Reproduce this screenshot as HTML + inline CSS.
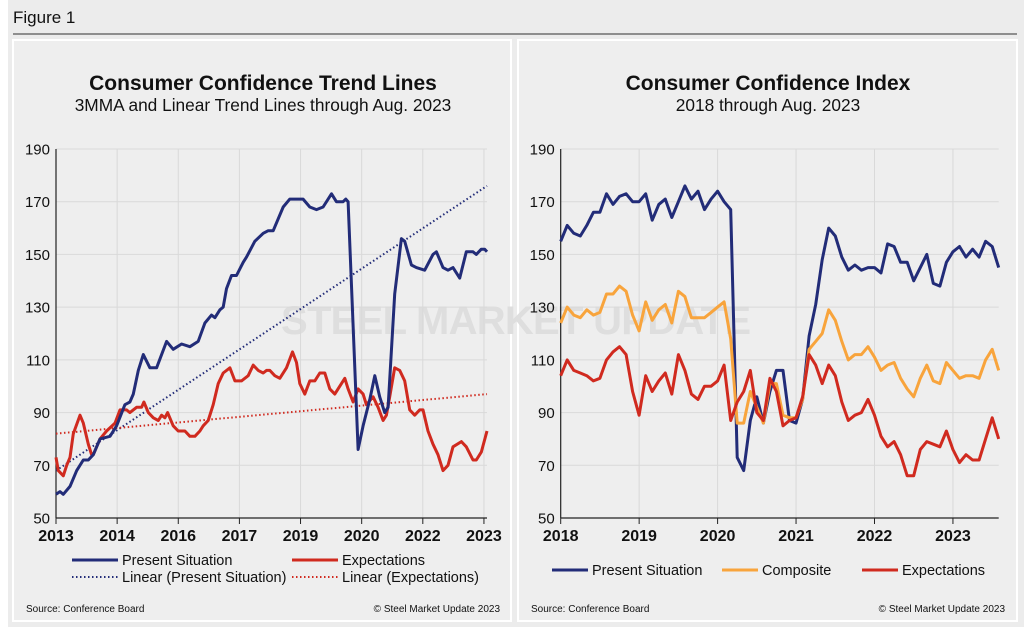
<!DOCTYPE html>
<html><head><meta charset="utf-8"><style>
html,body{margin:0;padding:0;background:#ececec;}
svg{display:block;font-family:"Liberation Sans",Arial,sans-serif;}
</style></head><body>
<svg id="fig" width="1024" height="627" viewBox="0 0 1024 627" xmlns="http://www.w3.org/2000/svg">
<rect x="0" y="0" width="1024" height="627" fill="#ececec"/>
<rect x="0" y="0" width="8" height="627" fill="#ffffff"/>
<text x="13" y="23" font-size="17" fill="#111">Figure 1</text>
<line x1="13" y1="34" x2="1017" y2="34" stroke="#555" stroke-width="1.2"/>
<rect x="13" y="40" width="498" height="581" fill="#eeeeee" stroke="#ffffff" stroke-width="2"/>
<rect x="518" y="40" width="499" height="581" fill="#eeeeee" stroke="#ffffff" stroke-width="2"/>
<text x="516" y="334" font-size="40" font-weight="bold" text-anchor="middle" fill="#dedede" textLength="470">STEEL MARKET UPDATE</text>
<g id="left"></g>
<g id="right"></g>
</svg>
<script>
// ---------- LEFT CHART DATA ----------
const leftYTicks = [50,70,90,110,130,150,170,190];
const leftXLabels = ["2013","2014","2016","2017","2019","2020","2022","2023"];
const leftPresentX = [0,1.2,2.2,4.2,6.2,8.2,9.7,11.2,13.2,16.2,18.2,20.7,22.2,23.2,24.7,26.2,28.2,30.2,33.2,35.2,37.7,40.2,42.7,44.7,46.7,47.7,49.2,50.2,51.2,52.7,54.2,56.2,57.2,59.7,62.2,63.7,65.2,68.2,70.2,72.2,74.2,76.2,78.2,80.2,82.7,84.2,86.2,87,87.7,90.7,92.2,94.2,95.7,97.2,98.7,99.7,101.7,103.7,104.7,106.7,108.2,110.7,113.2,114.2,116.2,117.7,119.2,121.2,123.2,125.2,126.2,127.7,128.7,129.4];
const leftPresent = [59,60,59,62,68,72,72,74,80,81,85,93,94,97,106,112,107,107,117,114,116,115,117,124,127,126,129,130,137,142,142,147,149,155,158,159,159,168,171,171,171,168,167,168,173,170,170,171,170,76,85,95,104,96,90,92,135,156,155,146,145,144,150,151,145,144,145,141,151,151,150,152,152,151];
const leftExpectX = [0,0.7,2.2,3.2,4.2,5.2,7.2,8.2,9.7,10.7,11.2,13.2,15.2,17.7,19.2,21.2,22.2,24.2,25.7,26.4,27.7,29.2,30.7,31.7,32.7,33.5,35.2,36.7,38.7,40.2,41.7,43.2,44.2,45.7,47.2,48.7,50.2,52.2,53.7,55.7,57.7,59.2,60.7,62.2,63.2,64.2,65.7,67.2,69.2,71,72.2,73.2,74.7,76.2,77.7,79.2,80.7,82.2,83.7,85.2,86.7,87.7,89.2,90.7,92.2,93.2,95.2,96.7,98.2,99.2,100.2,101.7,103.2,104.7,106.2,107.7,109.2,110.2,111.7,113.2,114.7,116.2,117.7,119.2,121.7,123.2,125.2,126.2,127.7,129.4];
const leftExpect = [73,68,66,70,73,82,89,86,78,74,74,80,83,86,91,91,90,92,92,94,90,88,87,89,88,90,85,83,83,81,81,83,85,87,93,101,105,107,102,102,104,108,106,105,106,106,104,103,107,113,109,101,97,102,102,105,105,99,97,100,103,99,94,99,97,93,96,92,87,89,96,107,106,102,91,89,91,91,83,78,74,68,70,77,79,77,72,72,75,83];
const leftTrendPresent = [68,176];
const leftTrendExpect = [82,97];
const leftXDomain = [0,129.4];

// ---------- RIGHT CHART DATA ----------
const rightYTicks = [50,70,90,110,130,150,170,190];
const rightXLabels = ["2018","2019","2020","2021","2022","2023"];
const rightPresent = [155,161,158,157,161,166,166,173,169,172,173,170,170,173,163,169,171,164,170,176,171,174,167,171,174,170,167,73,68,87,96,86,98,106,106,87,86,95,119,131,148,160,157,149,144,146,144,145,145,143,154,153,147,147,140,145,150,139,138,147,151,153,149,152,149,155,153,145];
const rightComposite = [124,130,127,126,129,127,128,135,135,138,136,127,121,132,125,129,131,124,136,134,126,126,126,128,130,132,118,86,86,98,92,86,101,101,89,88,88,95,114,117,120,129,125,117,110,112,112,115,111,106,108,109,103,99,96,103,108,102,101,109,106,103,104,104,103,110,114,106];
const rightExpect = [104,110,106,105,104,102,103,110,113,115,112,98,89,104,98,102,105,97,112,106,97,95,100,100,102,108,87,94,98,106,90,87,103,98,85,87,88,96,112,108,101,108,104,94,87,89,90,95,89,81,77,79,74,66,66,76,79,78,77,83,76,71,74,72,72,80,88,80];

const NS = "http://www.w3.org/2000/svg";
const NAVY = "#222c78", RED = "#d02a1f", ORANGE = "#f8a43c";
function mk(tag, attrs, parent){const e=document.createElementNS(NS,tag);for(const k in attrs)e.setAttribute(k,attrs[k]);parent.appendChild(e);return e;}
function txt(parent,x,y,s,size,anchor,weight,fill){const t=mk("text",{x:x,y:y,"font-size":size,"text-anchor":anchor||"start","font-weight":weight||"normal",fill:fill||"#111"},parent);t.textContent=s;return t;}

function linY(v){return 518-(v-50)*(369/140);}

// ---- LEFT ----
(function(){
  const g=document.getElementById("left");
  const x0=56,x1=487;
  const X=v=>x0+(v-leftXDomain[0])/(leftXDomain[1]-leftXDomain[0])*(x1-x0);
  const t1=txt(g,263,90,"Consumer Confidence Trend Lines",21,"middle","bold");
  
  
  const t2=txt(g,263,111,"3MMA and Linear Trend Lines through Aug. 2023",17.3,"middle");
  
  
  leftYTicks.forEach(v=>{
    const y=linY(v);
    mk("line",{x1:x0,y1:y,x2:x1,y2:y,stroke:"#d9d9d9","stroke-width":1},g);
    const l=txt(g,x0-6,y+5.5,String(v),15,"end");
    
    
  });
  const step=(x1-x0)/7.05;
  leftXLabels.forEach((s,i)=>{
    const x=x0+i*step;
    if(i>0) mk("line",{x1:x,y1:149,x2:x,y2:518,stroke:"#d9d9d9","stroke-width":1},g);
    mk("line",{x1:x,y1:518,x2:x,y2:524,stroke:"#222","stroke-width":1},g);
    const l=txt(g,x,541,s,16,"middle","bold");
    
    
  });
  mk("line",{x1:x0,y1:149,x2:x0,y2:518,stroke:"#222","stroke-width":1.2},g);
  mk("line",{x1:x0,y1:518,x2:x1,y2:518,stroke:"#222","stroke-width":1.2},g);
  const tp=mk("line",{x1:X(leftXDomain[0]),y1:linY(leftTrendPresent[0]),x2:X(leftXDomain[1]),y2:linY(leftTrendPresent[1]),stroke:NAVY,"stroke-width":2,"stroke-dasharray":"1.5 2.5"},g);
  
  
  const te=mk("line",{x1:X(leftXDomain[0]),y1:linY(leftTrendExpect[0]),x2:X(leftXDomain[1]),y2:linY(leftTrendExpect[1]),stroke:RED,"stroke-width":2,"stroke-dasharray":"1.5 2.5"},g);
  
  
  const pe=mk("polyline",{points:leftExpect.map((v,i)=>X(leftExpectX[i]).toFixed(1)+","+linY(v).toFixed(1)).join(" "),fill:"none",stroke:RED,"stroke-width":3,"stroke-linejoin":"round"},g);
  
  
  const pp=mk("polyline",{points:leftPresent.map((v,i)=>X(leftPresentX[i]).toFixed(1)+","+linY(v).toFixed(1)).join(" "),fill:"none",stroke:NAVY,"stroke-width":3,"stroke-linejoin":"round"},g);
  
  
  const items=[[72,565,"Present Situation",NAVY,false],[292,565,"Expectations",RED,false],[72,582,"Linear (Present Situation)",NAVY,true],[292,582,"Linear (Expectations)",RED,true]];
  items.forEach(it=>{
    const lg=mk("g",{},g);
    
    
    mk("line",Object.assign({x1:it[0],y1:it[1]-5,x2:it[0]+46,y2:it[1]-5,stroke:it[3],"stroke-width":it[4]?2:3},it[4]?{"stroke-dasharray":"1.5 2.5"}:{}),lg);
    txt(lg,it[0]+50,it[1],it[2],14.5,"start");
  });
  const s1=txt(g,26,612,"Source: Conference Board",10,"start");
  
  
  const s2=txt(g,500,612,"© Steel Market Update 2023",10,"end");
  
  
})();

// ---- RIGHT ----
(function(){
  const g=document.getElementById("right");
  const x0=560.7,x1=998.7,n=rightPresent.length-1;
  const X=i=>x0+i/n*(x1-x0);
  const t1=txt(g,768,90,"Consumer Confidence Index",21,"middle","bold");
  
  
  const t2=txt(g,768,111,"2018 through Aug. 2023",17.3,"middle");
  
  
  rightYTicks.forEach(v=>{
    const y=linY(v);
    mk("line",{x1:x0,y1:y,x2:x1,y2:y,stroke:"#d9d9d9","stroke-width":1},g);
    const l=txt(g,x0-6,y+5.5,String(v),15,"end");
    
    
  });
  rightXLabels.forEach((s,i)=>{
    const x=X(i*12);
    if(i>0) mk("line",{x1:x,y1:149,x2:x,y2:518,stroke:"#d9d9d9","stroke-width":1},g);
    mk("line",{x1:x,y1:518,x2:x,y2:524,stroke:"#222","stroke-width":1},g);
    const l=txt(g,x,541,s,16,"middle","bold");
    
    
  });
  mk("line",{x1:x0,y1:149,x2:x0,y2:518,stroke:"#222","stroke-width":1.2},g);
  mk("line",{x1:x0,y1:518,x2:x1,y2:518,stroke:"#222","stroke-width":1.2},g);
  const series=[[rightPresent,NAVY,"present-situation-line"],[rightComposite,ORANGE,"composite-line"],[rightExpect,RED,"expectations-line"]];
  series.forEach(s=>{
    const p=mk("polyline",{points:s[0].map((v,i)=>X(i).toFixed(1)+","+linY(v).toFixed(1)).join(" "),fill:"none",stroke:s[1],"stroke-width":3,"stroke-linejoin":"round"},g);
    
    
  });
  const items=[[552,"Present Situation",NAVY],[722,"Composite",ORANGE],[862,"Expectations",RED]];
  items.forEach(it=>{
    const lg=mk("g",{},g);
    
    
    mk("line",{x1:it[0],y1:570,x2:it[0]+36,y2:570,stroke:it[2],"stroke-width":3},lg);
    txt(lg,it[0]+40,575,it[1],14.5,"start");
  });
  const s1=txt(g,531,612,"Source: Conference Board",10,"start");
  
  
  const s2=txt(g,1005,612,"© Steel Market Update 2023",10,"end");
  
  
})();
</script>
</body></html>
